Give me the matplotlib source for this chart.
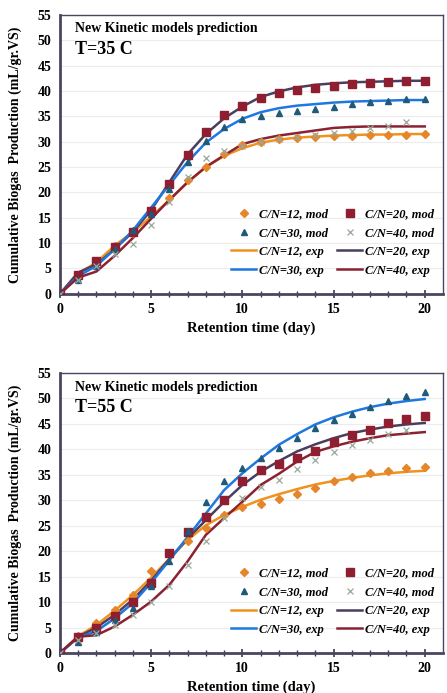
import matplotlib.pyplot as plt
import numpy as np

plt.rcParams['font.family'] = ['Liberation Serif', 'DejaVu Serif']
plt.rcParams['font.weight'] = 'bold'

days = list(range(0, 21))

# T=35 C, model points
mod35_12 = [0, 3.8, 6.5, 9.5, 12.0, 16.0, 18.9, 22.5, 25.1, 27.6, 29.3, 30.0, 30.5, 30.8, 31.0, 31.1, 31.2, 31.3, 31.4, 31.4, 31.5]
mod35_20 = [0, 3.7, 6.5, 9.3, 12.2, 16.4, 21.7, 27.3, 32.0, 35.2, 37.1, 38.6, 39.6, 40.2, 40.6, 41.0, 41.4, 41.5, 41.7, 41.9, 42.0]
mod35_30 = [0, 2.8, 5.5, 8.9, 12.5, 15.7, 20.7, 26.0, 30.2, 32.8, 34.4, 35.0, 35.6, 36.1, 36.5, 36.9, 37.5, 37.8, 38.1, 38.4, 38.4]
mod35_40 = [0, 2.8, 5.5, 7.8, 9.9, 13.6, 18.1, 23.1, 26.8, 28.1, 29.1, 30.0, 30.6, 31.0, 31.4, 31.7, 32.1, 32.7, 33.1, 33.8]
# T=35 C, experimental curves
exp35_12 = [0, 4.0, 6.2, 9.5, 12.2, 15.2, 18.5, 22.0, 25.0, 27.2, 28.7, 29.8, 30.4, 30.8, 31.0, 31.2, 31.3, 31.4, 31.4, 31.5, 31.5]
exp35_20 = [0, 4.2, 5.8, 8.8, 12.2, 16.5, 22.0, 27.5, 31.5, 34.6, 36.9, 38.8, 39.9, 40.7, 41.2, 41.5, 41.7, 41.8, 41.9, 42.0, 42.0]
exp35_30 = [0, 3.5, 5.5, 8.8, 12.5, 17.0, 21.5, 26.0, 29.8, 32.5, 34.5, 35.8, 36.6, 37.1, 37.4, 37.7, 37.9, 38.0, 38.1, 38.2, 38.2]
exp35_40 = [0, 3.2, 4.4, 7.5, 11.0, 14.8, 18.5, 22.0, 25.0, 27.3, 29.5, 30.5, 31.2, 31.7, 32.2, 32.7, 32.9, 33.0, 33.0, 33.0, 33.0]

# T=55 C, model points
mod55_12 = [0, 3.3, 5.9, 8.4, 11.4, 16.1, 19.7, 22.1, 24.5, 27.1, 28.6, 29.3, 30.2, 31.2, 32.5, 33.7, 34.6, 35.3, 35.8, 36.4, 36.5]
mod55_20 = [0, 3.2, 4.9, 7.3, 10.1, 13.8, 19.6, 23.8, 26.8, 30.1, 33.8, 36.0, 37.1, 38.4, 39.7, 41.4, 42.8, 43.9, 45.1, 46.0, 46.6]
mod55_30 = [0, 2.2, 4.2, 6.5, 8.9, 13.2, 18.1, 24.0, 29.7, 33.7, 36.4, 38.4, 40.2, 42.3, 44.3, 45.8, 47.0, 48.4, 49.5, 50.5, 51.3]
mod55_40 = [0, 2.5, 4.0, 5.5, 7.5, 10.0, 13.2, 17.3, 22.1, 26.5, 30.5, 32.6, 34.0, 36.1, 37.9, 39.5, 40.9, 41.8, 43.0, 43.9]
# T=55 C, experimental curves
exp55_12 = [0, 3.3, 5.5, 8.3, 11.4, 14.8, 18.5, 22.2, 25.1, 27.1, 28.7, 30.1, 31.2, 32.2, 33.1, 33.8, 34.4, 34.9, 35.3, 35.6, 35.8]
exp55_20 = [0, 3.2, 5.0, 7.5, 10.5, 14.2, 18.5, 22.5, 26.1, 29.7, 33.0, 35.6, 37.7, 39.6, 41.0, 42.2, 43.2, 43.9, 44.5, 44.9, 45.2]
exp55_30 = [0, 3.0, 4.3, 6.8, 9.8, 13.8, 18.2, 22.8, 27.4, 32.0, 35.3, 38.2, 40.9, 43.0, 44.9, 46.3, 47.4, 48.3, 49.0, 49.5, 49.9]
exp55_40 = [0, 3.2, 3.5, 5.2, 7.5, 10.1, 13.4, 18.0, 23.2, 26.5, 29.7, 33.0, 35.2, 37.6, 39.5, 40.6, 41.5, 42.2, 42.8, 43.1, 43.4]

mod_labels = ["C/N=12, mod", "C/N=20, mod", "C/N=30, mod", "C/N=40, mod"]
exp_labels = ["C/N=12, exp", "C/N=20, exp", "C/N=30, exp", "C/N=40, exp"]

panels = [
    ("T=35 C", [mod35_12, mod35_20, mod35_30, mod35_40], [exp35_12, exp35_20, exp35_30, exp35_40]),
    ("T=55 C", [mod55_12, mod55_20, mod55_30, mod55_40], [exp55_12, exp55_20, exp55_30, exp55_40]),
]

line_colors = ["#F0921E", "#4A3E5E", "#1E78E0", "#8A2232"]
mark_colors = ["#E6862A", "#8E1E30", "#1F5A78", "#9AA89A"]
markers = ["D", "s", "^", "x"]
msizes = [3.8, 5.2, 5.0, 5.0]

fig = plt.figure(figsize=(4.47, 6.93), dpi=100)
axes_pos = [[0.134, 0.576, 0.857, 0.4026], [0.134, 0.0577, 0.857, 0.404]]

for p in range(2):
    title, mods, exps = panels[p]
    ax = fig.add_axes(axes_pos[p])

    handles = {}
    for i in range(4):
        h, = ax.plot(days[:len(exps[i])], exps[i], color=line_colors[i], lw=1.8, label=exp_labels[i], zorder=2)
        handles["e" + str(i)] = h
    for i in range(4):
        if markers[i] == "x":
            h, = ax.plot(days[:len(mods[i])], mods[i], ls="none", marker="x", ms=msizes[i], mew=0.9,
                         color=mark_colors[i], label=mod_labels[i], zorder=3)
        else:
            h, = ax.plot(days[:len(mods[i])], mods[i], ls="none", marker=markers[i], ms=msizes[i],
                         color=mark_colors[i], mec=mark_colors[i], label=mod_labels[i], zorder=3)
        handles["m" + str(i)] = h

    ax.set_xlim(0, 21)
    ax.set_ylim(0, 55)
    ax.set_xticks([0, 5, 10, 15, 20])
    ax.set_xticks(range(0, 21), minor=True)
    ax.set_yticks(range(0, 56, 5))
    ax.yaxis.grid(True, color="#ececec", lw=0.8)
    ax.set_axisbelow(True)
    ax.tick_params(axis="x", which="major", direction="inout", length=6, width=1.2, color="#3d3550", labelsize=10)
    ax.tick_params(axis="x", which="minor", direction="inout", length=4, width=1.0, color="#3d3550")
    ax.tick_params(axis="y", length=0, labelsize=10, pad=6)
    for lab in ax.get_xticklabels() + ax.get_yticklabels():
        lab.set_fontweight("bold")
    for s in ax.spines.values():
        s.set_color("#4a4560")
        s.set_linewidth(1.0)
    ax.spines["left"].set_linewidth(2.0)
    ax.spines["bottom"].set_linewidth(2.0)

    ax.set_xlabel("Retention time (day)", fontsize=10.5, fontweight="bold", labelpad=4)
    ax.set_ylabel("Cumulative Biogas  Production (mL/gr.VS)", fontsize=10, fontweight="bold", labelpad=11)

    ax.text(0.04, 0.95, "New Kinetic models prediction", transform=ax.transAxes,
            fontsize=10, fontweight="bold", va="center", ha="left")
    ax.text(0.04, 0.877, title, transform=ax.transAxes,
            fontsize=13, fontweight="bold", va="center", ha="left")

    # legend fills column by column, so order the handles to get the rows right
    order = ["m0", "m2", "e0", "e2", "m1", "m3", "e1", "e3"]
    hl = [handles[k] for k in order]
    ax.legend(hl, [h.get_label() for h in hl], ncol=2, frameon=False,
              loc="lower right", bbox_to_anchor=(1.0, 0.03),
              prop={"family": "Liberation Serif", "style": "italic", "weight": "bold", "size": 9},
              handlelength=2.0, handletextpad=0.25, columnspacing=0.7, labelspacing=0.55,
              borderpad=0.2)

fig.savefig("out.png", dpi=100)
